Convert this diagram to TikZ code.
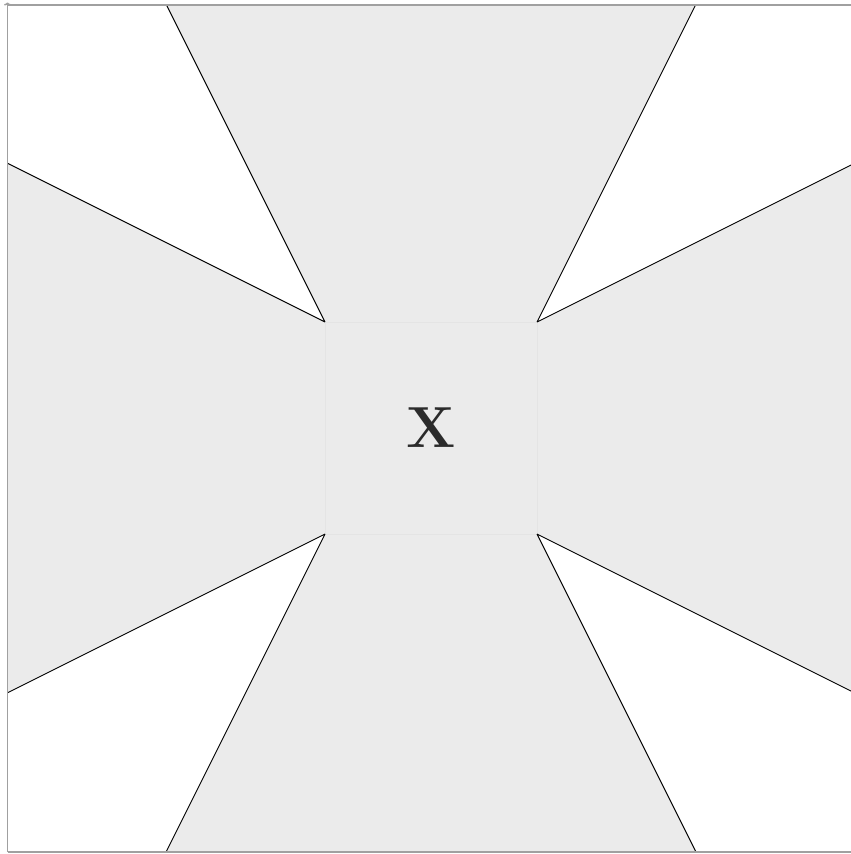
\documentclass[tikz,border=0pt]{standalone}
\usetikzlibrary{arrows.meta,calc}
\definecolor{bgfill}{HTML}{EBEBEB}
\definecolor{sqedge}{HTML}{E4E4E4}
\definecolor{axisgray}{HTML}{A0A0A0}
\definecolor{txt}{HTML}{2B2B2B}
\begin{document}
\begin{tikzpicture}[x=1pt,y=-1pt,
  edge/.style={black,line width=0.9pt},
  axisline/.style={draw=axisgray,line width=1.5pt},
  wedge/.style={fill=white}]
\useasboundingbox (0,0) rectangle (851,854);
\coordinate (o) at (7.5,852);
\coordinate (ytop) at (7.5,2.5);
\coordinate (tl) at (7.5,5);
\coordinate (tr) at (851,5);
\coordinate (br) at (851,852);
\begin{scope}
\clip (tl) rectangle (br);
\fill[fill=bgfill] (tl) rectangle (br);
\node[draw=sqedge, fill=bgfill, line width=0.8pt, minimum size=212pt, inner sep=0pt, outer sep=0pt] (sq) at (431,428) {};
% far ends of the rays
\coordinate (nw1) at ($(sq.north west)+(-400,-800)$);
\coordinate (nw2) at ($(sq.north west)+(-800,-400)$);
\coordinate (ne1) at ($(sq.north east)+(400,-800)$);
\coordinate (ne2) at ($(sq.north east)+(800,-400)$);
\coordinate (sw1) at ($(sq.south west)+(-400,800)$);
\coordinate (sw2) at ($(sq.south west)+(-800,400)$);
\coordinate (se1) at ($(sq.south east)+(400,800)$);
\coordinate (se2) at ($(sq.south east)+(800,400)$);
\fill[wedge] (sq.north west) -- (nw1) -- (nw2) -- cycle;
\fill[wedge] (sq.north east) -- (ne1) -- (ne2) -- cycle;
\fill[wedge] (sq.south west) -- (sw1) -- (sw2) -- cycle;
\fill[wedge] (sq.south east) -- (se1) -- (se2) -- cycle;
\draw[edge] (sq.north west) -- (nw1) (sq.north west) -- (nw2);
\draw[edge] (sq.north east) -- (ne1) (sq.north east) -- (ne2);
\draw[edge] (sq.south west) -- (sw1) (sq.south west) -- (sw2);
\draw[edge] (sq.south east) -- (se1) (sq.south east) -- (se2);
\end{scope}
\node[font=\bfseries\fontsize{58}{58}\selectfont, text=txt, inner sep=0pt] (x) at (431,428) {X};
\draw[axisline] (tl) -- (tr);
\draw[axisline] (o) -- (br);
\draw[axisline,-{To[length=3pt,width=7pt]}] (o) -- (ytop);
\end{tikzpicture}
\end{document}
